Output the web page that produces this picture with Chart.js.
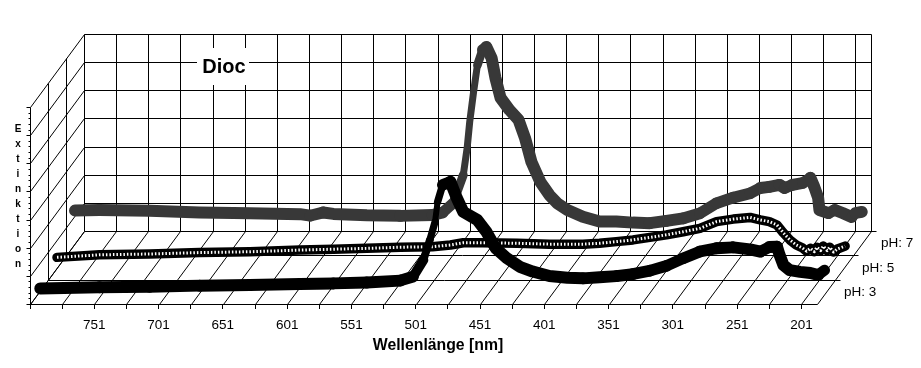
<!DOCTYPE html>
<html>
<head>
<meta charset="utf-8">
<title>Dioc</title>
<script src="https://cdn.jsdelivr.net/npm/chart.js@4/dist/chart.umd.min.js"></script>
<style>
  html, body { margin: 0; padding: 0; background: #fff; }
  canvas { display: block; }
</style>
</head>
<body>
<canvas id="chart" width="921" height="368"></canvas>
<script>
// Values. Extinction is in grid units (one back wall square = 1).
const ph7Wave = [801, 782, 743, 704, 665, 626, 618, 608, 600, 574, 548, 523, 515, 507, 499, 496, 494, 491, 488, 484, 481, 477, 474, 470, 463, 456, 451, 446, 439, 432, 426, 418, 406, 393, 380, 367, 354, 341, 328, 315, 302, 289, 276, 268, 261, 253, 249, 243, 235, 229, 226, 223, 222, 215, 210, 204, 197, 194, 189];
const ph7Ext = [1.16, 1.18, 1.15, 1.09, 1.06, 1.03, 0.98, 1.09, 1.04, 0.99, 0.97, 1.0, 1.09, 1.42, 2.42, 3.38, 4.31, 5.37, 6.33, 6.87, 6.97, 6.58, 5.87, 5.16, 4.73, 4.38, 3.74, 2.89, 2.17, 1.71, 1.42, 1.18, 0.94, 0.77, 0.77, 0.73, 0.71, 0.79, 0.88, 1.06, 1.42, 1.62, 1.77, 1.96, 2.0, 2.07, 1.96, 2.07, 2.14, 2.32, 2.0, 1.61, 1.18, 1.07, 1.18, 1.07, 0.93, 1.07, 1.11];

const ph5Wave = [801, 768, 729, 690, 651, 612, 586, 560, 534, 509, 495, 485, 470, 443, 418, 392, 379, 366, 353, 340, 327, 314, 301, 288, 275, 262, 254, 247, 241, 236, 231, 226, 221, 218, 215, 212, 210, 207, 205, 202, 200, 197, 194, 188];
const ph5Ext = [0.36, 0.45, 0.48, 0.53, 0.56, 0.62, 0.65, 0.68, 0.72, 0.74, 0.8, 0.88, 0.88, 0.86, 0.83, 0.83, 0.86, 0.92, 0.98, 1.07, 1.16, 1.27, 1.39, 1.63, 1.72, 1.78, 1.69, 1.63, 1.51, 1.23, 0.98, 0.8, 0.69, 0.58, 0.68, 0.56, 0.72, 0.6, 0.76, 0.6, 0.72, 0.55, 0.66, 0.76];

const ph3Wave = [800, 754, 715, 676, 637, 598, 572, 546, 520, 510, 502, 497, 493, 491, 487, 481, 476, 471, 460, 453, 446, 437, 427, 417, 404, 390, 378, 365, 352, 339, 326, 313, 300, 287, 274, 261, 248, 240, 233, 227, 225, 222, 217, 209, 201, 195, 190];
const ph3Ext = [0.12, 0.16, 0.18, 0.22, 0.24, 0.28, 0.3, 0.33, 0.4, 0.54, 1.13, 1.84, 2.48, 3.19, 3.8, 3.91, 3.33, 2.84, 2.55, 2.13, 1.56, 1.19, 0.89, 0.72, 0.56, 0.5, 0.48, 0.52, 0.56, 0.63, 0.75, 0.92, 1.19, 1.43, 1.55, 1.58, 1.51, 1.43, 1.59, 1.6, 1.31, 0.95, 0.77, 0.71, 0.67, 0.6, 0.77];

const waveTicks = [801, 776, 751, 726, 701, 676, 651, 626, 601, 576, 551, 526, 501, 476, 451, 426, 401, 376, 351, 326, 301, 276, 251, 226, 201];
const phLabels = ['pH: 3', 'pH: 5', 'pH: 7'];
const yTitle = ['E', 'x', 't', 'i', 'n', 'k', 't', 'i', 'o', 'n'];

const WAVE_START = 801;
const WAVE_END = 189;
const EXT_TOP = 7;
// how far one full step into the depth of the box moves a point, in axis units
const DEPTH_WAVE = 42;
const DEPTH_EXT = 2.594;
const FONT = '"Liberation Sans", Arial, sans-serif';

function project(waves, values, depth) {
    return waves.map((w, i) => ({
        x: w - depth * DEPTH_WAVE,
        y: values[i] + depth * DEPTH_EXT
    }));
}

// the original markers leave a thinner trace where the curve climbs steeply
function thinOnRise(wide, thin) {
    return ctx => {
        const dw = ctx.p0.parsed.x - ctx.p1.parsed.x;
        const dv = ctx.p1.parsed.y - ctx.p0.parsed.y;
        const t = Math.max(0, Math.min(1, (dv / dw) / 0.2));
        return wide + (thin - wide) * t;
    };
}

function seriesLine(data, color, width, extra) {
    return Object.assign({
        data: data,
        borderColor: color,
        borderWidth: width,
        borderCapStyle: 'round',
        borderJoinStyle: 'round',
        pointRadius: 0,
        tension: 0,
        showLine: true,
        clip: false
    }, extra || {});
}

// Draws the box walls and the floor behind the curves
const boxGrid = {
    id: 'boxGrid',
    beforeDatasetsDraw(chart) {
        const ctx = chart.ctx;
        const xs = chart.scales.x;
        const ys = chart.scales.y;
        const px = (w, d) => Math.round(xs.getPixelForValue(w - d * DEPTH_WAVE)) + 0.5;
        const py = (e, d) => Math.round(ys.getPixelForValue(e + d * DEPTH_EXT)) + 0.5;
        const line = (x1, y1, x2, y2) => {
            ctx.beginPath();
            ctx.moveTo(x1, y1);
            ctx.lineTo(x2, y2);
            ctx.stroke();
        };

        ctx.save();
        ctx.strokeStyle = '#000';
        ctx.lineWidth = 1;

        // back wall
        for (let e = 0; e <= EXT_TOP; e++) {
            line(px(WAVE_START, 1), py(e, 1), px(WAVE_END, 1) + (e === 0 ? 5 : 0), py(e, 1));
        }
        waveTicks.forEach(w => line(px(w, 1), py(0, 1), px(w, 1), py(EXT_TOP, 1)));
        line(px(WAVE_END, 1), py(0, 1), px(WAVE_END, 1), py(EXT_TOP, 1));

        // left wall
        for (let e = 0; e <= EXT_TOP; e++) {
            line(px(WAVE_START, 0), py(e, 0), px(WAVE_START, 1), py(e, 1));
        }
        [1 / 3, 2 / 3].forEach(d => line(px(WAVE_START, d), py(0, d), px(WAVE_START, d), py(EXT_TOP, d)));

        // floor
        [0, 1 / 3, 2 / 3].forEach(d => {
            line(px(WAVE_START, d), py(0, d), px(WAVE_END, d) + (d === 0 ? 0 : 5), py(0, d));
        });
        waveTicks.forEach(w => line(px(w, 0), py(0, 0), px(w, 1), py(0, 1)));
        line(px(WAVE_END, 0), py(0, 0), px(WAVE_END, 1), py(0, 1));

        // extinction axis with its tick marks, no numbers on it
        line(px(WAVE_START, 0), py(0, 0), px(WAVE_START, 0), py(EXT_TOP, 0));
        for (let k = 0; k <= EXT_TOP * 5; k++) {
            const len = k % 5 === 0 ? 4 : 2;
            const tickY = py(k / 5, 0);
            line(px(WAVE_START, 0) - len, tickY, px(WAVE_START, 0), tickY);
        }

        // title box sits on the grid and is drawn under the curves
        ctx.fillStyle = '#fff';
        ctx.fillRect(197, 48, 52, 37);
        ctx.fillStyle = '#000';
        ctx.textAlign = 'center';
        ctx.textBaseline = 'middle';
        ctx.font = 'bold 20px ' + FONT;
        ctx.fillText('Dioc', 224, 67);
        ctx.restore();
    }
};

// Texts that have no axis of their own in Chart.js
const boxLabels = {
    id: 'boxLabels',
    afterDatasetsDraw(chart) {
        const ctx = chart.ctx;
        ctx.save();
        ctx.fillStyle = '#000';
        ctx.textBaseline = 'middle';

        ctx.textAlign = 'center';
        ctx.font = 'bold 10px ' + FONT;
        yTitle.forEach((c, i) => ctx.fillText(c, 18, 129.5 + i * 15));

        ctx.font = 'bold 15.8px ' + FONT;
        ctx.fillText('Wellenlänge [nm]', 438, 345.5);

        ctx.textAlign = 'left';
        ctx.font = '13.5px ' + FONT;
        const rows = [[844, 292], [862, 268], [881, 243]];
        phLabels.forEach((t, i) => ctx.fillText(t, rows[i][0], rows[i][1]));
        ctx.restore();
    }
};

new Chart(document.getElementById('chart'), {
    type: 'scatter',
    data: {
        datasets: [
            seriesLine(project(ph3Wave, ph3Ext, 1 / 6), '#000', 12, { label: phLabels[0], segment: { borderWidth: thinOnRise(12, 6) } }),
            seriesLine(project(ph5Wave, ph5Ext, 1 / 2), '#fff', 3, { label: phLabels[1], borderDash: [1.5, 2], borderCapStyle: 'butt' }),
            seriesLine(project(ph5Wave, ph5Ext, 1 / 2), '#000', 9.5, { label: phLabels[1] }),
            seriesLine(project(ph7Wave, ph7Ext, 5 / 6), '#383838', 12, { label: phLabels[2], segment: { borderWidth: thinOnRise(12, 7) } })
        ]
    },
    options: {
        responsive: false,
        animation: false,
        layout: { padding: { left: 30, right: 45, top: 34, bottom: 0 } },
        plugins: { legend: { display: false }, tooltip: { enabled: false } },
        scales: {
            x: {
                type: 'linear',
                reverse: true,
                min: 143,
                max: WAVE_START,
                afterBuildTicks: scale => { scale.ticks = waveTicks.map(v => ({ value: v })); },
                afterFit: scale => { scale.height = 64; },
                grid: { drawOnChartArea: false, drawTicks: true, tickLength: 5, color: '#000' },
                border: { display: false },
                ticks: {
                    autoSkip: false,
                    maxRotation: 0,
                    color: '#000',
                    padding: 8,
                    font: { family: FONT, size: 13.5 },
                    callback: v => ((WAVE_START - v) % 50 === 0 && v !== WAVE_START ? String(v) : '')
                }
            },
            y: {
                display: false,
                min: 0,
                max: EXT_TOP + DEPTH_EXT
            }
        }
    },
    plugins: [boxGrid, boxLabels]
});
</script>
</body>
</html>
